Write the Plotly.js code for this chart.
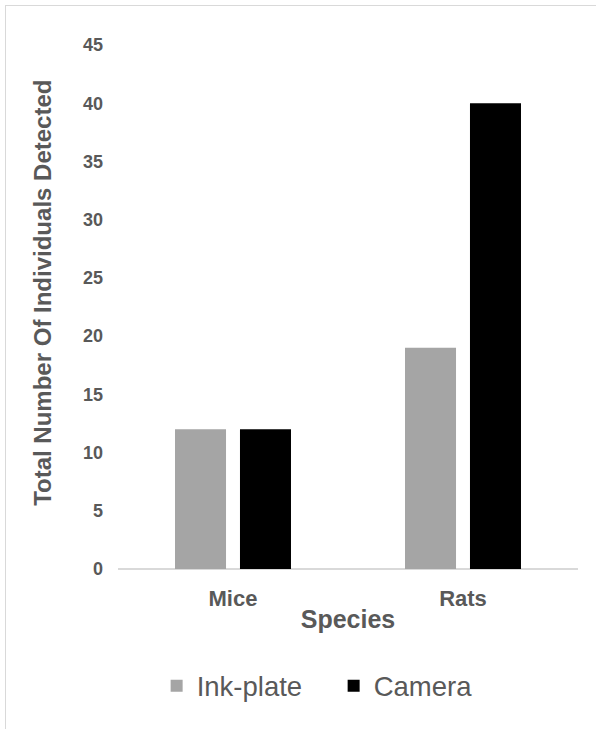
<!DOCTYPE html>
<html><head><meta charset="utf-8">
<script src="https://cdn.plot.ly/plotly-3.0.1.min.js"></script>
<style>
html,body{margin:0;padding:0;background:#fff;overflow:hidden}
#frame{position:absolute;left:5px;top:5px;width:620px;height:760px;border:1.5px solid #d9d9d9;box-sizing:border-box;pointer-events:none;z-index:5}
#chart{position:absolute;left:0;top:0;width:596px;height:729px}
</style>
</head><body>
<div id="chart"></div><div id="frame"></div>
<script>
const categories = ["Mice", "Rats"];
const inkPlate = [12, 19];
const camera = [12, 40];
const seriesNames = ["Ink-plate", "Camera"];
const yTicks = [0, 5, 10, 15, 20, 25, 30, 35, 40, 45];
const yTitle = "Total Number Of Individuals Detected";
const xTitle = "Species";

const FONT = "Arial, 'Liberation Sans', sans-serif";
const TXT = "#595959";

const traces = [
  {type:"bar", name:seriesNames[0], x:categories, y:inkPlate, marker:{color:"#a5a5a5"}, hoverinfo:"none"},
  {type:"bar", name:seriesNames[1], x:categories, y:camera, marker:{color:"#000000"}, hoverinfo:"none"}
];

const layout = {
  width:596, height:729,
  margin:{l:118, r:18, t:45, b:160},
  paper_bgcolor:"#fff", plot_bgcolor:"#fff",
  barmode:"group", bargap:0.435, bargroupgap:0.215,
  showlegend:true,
  legend:{orientation:"h", x:0.084, xanchor:"left", y:-0.223, yanchor:"middle",
          font:{family:FONT, size:27.5, color:TXT}, entrywidth:132, entrywidthmode:"pixels",
          itemwidth:30, tracegroupgap:0, bgcolor:"rgba(0,0,0,0)"},
  xaxis:{
    type:"category", showgrid:false, zeroline:false,
    showline:false, ticks:"", ticklabelstandoff:14,
    tickfont:{family:FONT, size:22, color:TXT, weight:"bold"},
    title:{text:xTitle, font:{family:FONT, size:25, color:TXT, weight:"bold"}, standoff:0}
  },
  yaxis:{
    range:[0,45], tickvals:yTicks, ticktext:yTicks.map(String),
    showgrid:false, zeroline:true, zerolinecolor:"#d9d9d9", zerolinewidth:1.3,
    showline:false, ticks:"", ticklabelstandoff:14,
    tickfont:{family:FONT, size:18, color:TXT, weight:"bold"}
  },
  annotations:[{
    text:yTitle, textangle:-90, showarrow:false,
    xref:"paper", yref:"paper", x:0, y:0.527, xanchor:"center", yanchor:"middle", xshift:-75,
    font:{family:FONT, size:24, color:TXT, weight:"bold"}
  }]
};

Plotly.newPlot("chart", traces, layout, {displayModeBar:false, staticPlot:true});
</script>
</body></html>
